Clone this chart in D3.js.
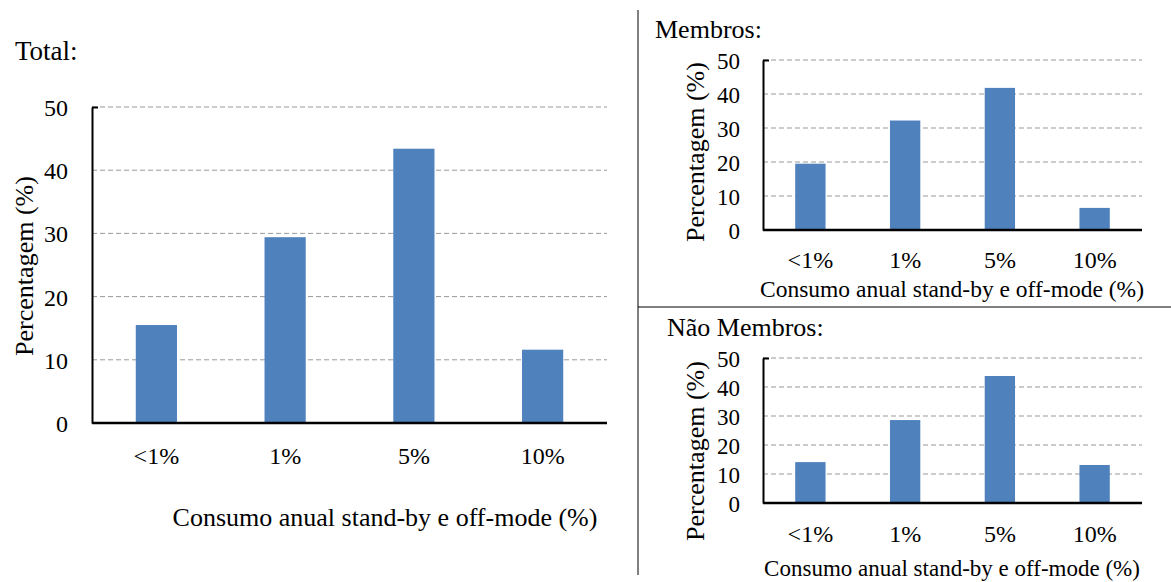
<!DOCTYPE html>
<html><head><meta charset="utf-8">
<script src="https://cdn.jsdelivr.net/npm/d3@7"></script>
<style>body{margin:0;background:#fff}svg{display:block}svg text{font-family:"Liberation Serif","Times New Roman",serif !important;fill:#000}</style>
</head><body><svg id="c" width="1171" height="582"></svg>
<script>
const categories = ["<1%", "1%", "5%", "10%"];
const totalValues = [15.5, 29.4, 43.4, 11.6];
const membrosValues = [19.5, 32.2, 41.8, 6.5];
const naoMembrosValues = [14.1, 28.6, 43.8, 13.1];
const yTicks = [0, 10, 20, 30, 40, 50];
const xTitle = "Consumo anual stand-by e off-mode (%)";
const yTitle = "Percentagem (%)";

const svg = d3.select("#c");
const barColor = "#4F81BD";

function panel(o) {
  const x = d3.scaleBand().domain(categories).range([o.x0, o.x1]).paddingInner(0.68).paddingOuter(0.34);
  const y = d3.scaleLinear().domain([0, 50]).range([o.y0, o.y1]);
  const g = svg.append("g");
  g.selectAll(".grid").data(yTicks.filter(d => d > 0)).enter().append("line")
    .attr("x1", o.x0).attr("x2", o.x1).attr("y1", d => y(d)).attr("y2", d => y(d))
    .attr("stroke", "#999").attr("stroke-width", 1).attr("stroke-dasharray", "5,3");
  g.selectAll(".bar").data(o.values).enter().append("rect")
    .attr("x", (d, i) => x(categories[i])).attr("width", x.bandwidth())
    .attr("y", d => y(d)).attr("height", d => y(0) - y(d)).attr("fill", barColor);
  const ya = g.append("g").attr("transform", `translate(${o.x0},0)`)
    .call(d3.axisLeft(y).tickValues(yTicks).tickSize(6).tickSizeOuter(0).tickPadding(o.yPad));
  ya.select(".domain").attr("stroke", "#000").attr("stroke-width", 2);
  ya.selectAll(".tick line").attr("x1", 0).attr("x2", 6).attr("stroke", "#000").attr("stroke-width", 2)
    .style("display", d => d === 50 ? null : "none");
  ya.selectAll("text").style("font-size", o.yFont + "px").attr("dy", "0.35em");
  const xa = g.append("g").attr("transform", `translate(0,${o.y0})`)
    .call(d3.axisBottom(x).tickSize(0).tickPadding(o.xPad));
  xa.select(".domain").attr("stroke", "#000").attr("stroke-width", 2.5).attr("d", `M${o.x0},0H${o.x1}`);
  xa.selectAll("text").style("font-size", o.xFont + "px");
  svg.append("text").attr("x", o.titleX).attr("y", o.titleY).style("font-size", o.titleFont + "px").text(o.title);
  svg.append("text").attr("x", o.xtX).attr("y", o.xtY).attr("text-anchor", "middle").style("font-size", o.xtFont + "px").text(xTitle);
  svg.append("text").attr("transform", `translate(${o.ytX},${o.ytY}) rotate(-90)`).attr("text-anchor", "middle")
    .style("font-size", o.ytFont + "px").text(yTitle);
}

panel({values: totalValues, x0: 92, x1: 607, y0: 423, y1: 107, yPad: 18, yFont: 24, xPad: 24, xFont: 24,
  title: "Total:", titleX: 15, titleY: 60, titleFont: 27, xtX: 385, xtY: 526, xtFont: 26, ytX: 33, ytY: 266, ytFont: 26});
panel({values: membrosValues, x0: 763, x1: 1142, y0: 230, y1: 60, yPad: 17, yFont: 23, xPad: 21, xFont: 24,
  title: "Membros:", titleX: 655, titleY: 38, titleFont: 26, xtX: 952, xtY: 297, xtFont: 23.5, ytX: 704, ytY: 152, ytFont: 26});
panel({values: naoMembrosValues, x0: 763, x1: 1142, y0: 503, y1: 358, yPad: 17, yFont: 23, xPad: 22, xFont: 24,
  title: "Não Membros:", titleX: 667, titleY: 336, titleFont: 26, xtX: 952, xtY: 576, xtFont: 23, ytX: 704, ytY: 451, ytFont: 26});

svg.append("line").attr("x1", 638).attr("x2", 638).attr("y1", 10).attr("y2", 575).attr("stroke", "#000").attr("stroke-width", 1);
svg.append("line").attr("x1", 638).attr("x2", 1171).attr("y1", 307).attr("y2", 307).attr("stroke", "#000").attr("stroke-width", 1);
</script></body></html>
